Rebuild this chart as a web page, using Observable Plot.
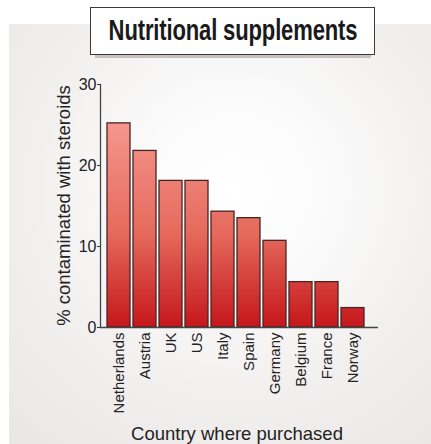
<!DOCTYPE html>
<html>
<head>
<meta charset="utf-8">
<script src="https://cdn.jsdelivr.net/npm/d3@7"></script>
<script src="https://cdn.jsdelivr.net/npm/@observablehq/plot@0.6"></script>
<style>
  html, body { margin: 0; padding: 0; background: #fff; }
  #wrap { position: relative; width: 431px; height: 444px; overflow: hidden; font-family: "Liberation Sans", Arial, sans-serif; }
  #panel { position: absolute; left: 9px; top: 24px; right: 0; bottom: 0;
    background: radial-gradient(circle at 226px 166px, #ffffff 0%, #fbfbfb 25%, #f2f0ef 60%, #e9e6e4 100%); }
  #shadow { position: absolute; left: 95px; top: 52px; width: 276px; height: 6px; background: #c9c1bd; }
  #title { position: absolute; left: 90px; top: 7px; width: 285px; height: 48px; box-sizing: border-box;
    border: 1.4px solid #3a3a3a; background: #fff; white-space: nowrap; }
  #title span { position: absolute; left: 50%; top: 0; transform: translateX(-50%) scaleX(0.76);
    font-family: "Liberation Sans", Arial, sans-serif; font-weight: bold; font-size: 29px;
    line-height: 45px; color: #1a1a1a; letter-spacing: -0.2px; }
  #chart { position: absolute; left: 0; top: 0; }
</style>
</head>
<body>
<div id="wrap">
  <div id="panel"></div>
  <div id="shadow"></div>
  <div id="title"><span>Nutritional supplements</span></div>
  <div id="chart"></div>
</div>
<script>
const countries = ["Netherlands", "Austria", "UK", "US", "Italy", "Spain", "Germany", "Belgium", "France", "Norway"];
const contaminated = [25.2, 21.8, 18.1, 18.1, 14.3, 13.5, 10.7, 5.6, 5.6, 2.4];
const yTicks = [0, 10, 20, 30];

const data = countries.map((c, i) => ({country: c, value: contaminated[i]}));

const plot = Plot.plot({
  width: 431,
  height: 444,
  marginTop: 84,
  marginBottom: 117,
  marginLeft: 100,
  marginRight: 53,
  style: {background: "transparent", fontFamily: "'Liberation Sans', Arial, sans-serif", color: "#222"},
  x: {domain: countries, paddingInner: 0.1, paddingOuter: 0.396, align: 0.354, label: null},
  y: {domain: [0, 30], label: null},
  marks: [
    Plot.barY(data, {x: "country", y: "value", fill: "url(#barGrad)", stroke: "#4a2424", strokeWidth: 1.3}),
    Plot.axisY({ticks: yTicks, tickSize: 3, tickPadding: 1, fontSize: 16, stroke: "#333", label: null}),
    Plot.axisX({tickSize: 0, tickRotate: -90, tickPadding: 5, fontSize: 15, label: null}),
    Plot.ruleY([0], {stroke: "#444", strokeWidth: 1.3}),
    Plot.frame({anchor: "left", stroke: "#444", strokeWidth: 1.3})
  ]
});

const svg = d3.select(plot);
const defs = svg.insert("defs", ":first-child");
const g = defs.append("linearGradient").attr("id", "barGrad")
  .attr("gradientUnits", "userSpaceOnUse").attr("x1", 0).attr("x2", 0).attr("y1", 118).attr("y2", 327);
g.append("stop").attr("offset", "0%").attr("stop-color", "#f69890");
g.append("stop").attr("offset", "55%").attr("stop-color", "#e56a5c");
g.append("stop").attr("offset", "100%").attr("stop-color", "#c5161c");

// axis titles as text
svg.append("text").attr("transform", "translate(70,205.5) rotate(-90)")
  .attr("text-anchor", "middle").attr("font-size", 18.5).attr("fill", "#222")
  .text("% contaminated with steroids");
svg.append("text").attr("x", 237).attr("y", 440)
  .attr("text-anchor", "middle").attr("font-size", 18.5).attr("fill", "#222")
  .text("Country where purchased");

document.getElementById("chart").appendChild(plot);
</script>
</body>
</html>
